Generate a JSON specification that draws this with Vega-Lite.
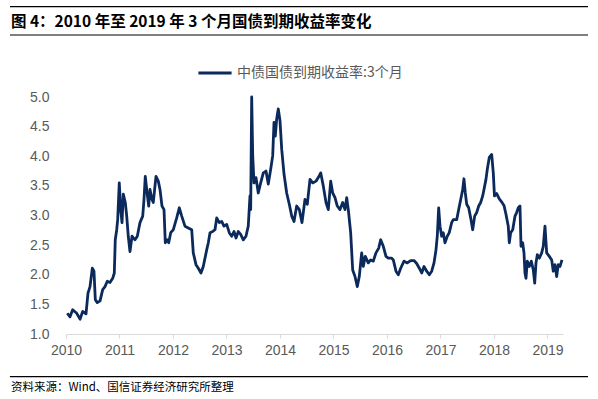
{
  "$schema": "https://vega.github.io/schema/vega-lite/v6.json",
  "width": 497,
  "height": 237,
  "autosize": {"type": "none"},
  "padding": {"left": 66, "top": 97, "right": 35, "bottom": 65},
  "background": "#ffffff",
  "config": {
    "view": {"stroke": null},
    "font": "Liberation Sans"
  },
  "layer": [
    {
      "data": {
        "values": [
          {"t": 2010.024, "v": 1.35}, {"t": 2010.075, "v": 1.29}, {"t": 2010.125, "v": 1.41}, {"t": 2010.2, "v": 1.35},
          {"t": 2010.262, "v": 1.25}, {"t": 2010.312, "v": 1.38}, {"t": 2010.374, "v": 1.34}, {"t": 2010.411, "v": 1.69},
          {"t": 2010.449, "v": 1.8}, {"t": 2010.492, "v": 2.11}, {"t": 2010.523, "v": 2.06}, {"t": 2010.548, "v": 1.58},
          {"t": 2010.585, "v": 1.53}, {"t": 2010.636, "v": 1.56}, {"t": 2010.686, "v": 1.75}, {"t": 2010.729, "v": 1.8},
          {"t": 2010.772, "v": 1.89}, {"t": 2010.822, "v": 1.87}, {"t": 2010.873, "v": 1.94}, {"t": 2010.903, "v": 2.03},
          {"t": 2010.921, "v": 2.59}, {"t": 2010.948, "v": 2.76}, {"t": 2010.966, "v": 2.93}, {"t": 2010.996, "v": 3.55},
          {"t": 2011.022, "v": 3.1}, {"t": 2011.047, "v": 2.88}, {"t": 2011.071, "v": 3.36}, {"t": 2011.108, "v": 3.22},
          {"t": 2011.135, "v": 2.99}, {"t": 2011.164, "v": 2.65}, {"t": 2011.196, "v": 2.39}, {"t": 2011.234, "v": 2.65},
          {"t": 2011.29, "v": 2.59}, {"t": 2011.333, "v": 2.65}, {"t": 2011.383, "v": 2.88}, {"t": 2011.434, "v": 2.99},
          {"t": 2011.458, "v": 3.27}, {"t": 2011.482, "v": 3.66}, {"t": 2011.508, "v": 3.44}, {"t": 2011.546, "v": 3.16},
          {"t": 2011.57, "v": 3.44}, {"t": 2011.607, "v": 3.27}, {"t": 2011.632, "v": 3.22}, {"t": 2011.682, "v": 3.66},
          {"t": 2011.725, "v": 3.58}, {"t": 2011.757, "v": 3.44}, {"t": 2011.794, "v": 3.16}, {"t": 2011.832, "v": 3.1},
          {"t": 2011.856, "v": 2.54}, {"t": 2011.893, "v": 2.59}, {"t": 2011.92, "v": 2.54}, {"t": 2011.957, "v": 2.71},
          {"t": 2012.006, "v": 2.76}, {"t": 2012.069, "v": 2.96}, {"t": 2012.118, "v": 3.13}, {"t": 2012.163, "v": 2.99},
          {"t": 2012.224, "v": 2.82}, {"t": 2012.286, "v": 2.79}, {"t": 2012.35, "v": 2.76}, {"t": 2012.379, "v": 2.37},
          {"t": 2012.43, "v": 2.17}, {"t": 2012.473, "v": 2.11}, {"t": 2012.523, "v": 2.03}, {"t": 2012.566, "v": 2.14},
          {"t": 2012.63, "v": 2.42}, {"t": 2012.66, "v": 2.54}, {"t": 2012.692, "v": 2.71}, {"t": 2012.742, "v": 2.73},
          {"t": 2012.785, "v": 2.76}, {"t": 2012.817, "v": 2.96}, {"t": 2012.865, "v": 2.88}, {"t": 2012.91, "v": 2.9},
          {"t": 2012.953, "v": 2.82}, {"t": 2013.004, "v": 2.85}, {"t": 2013.052, "v": 2.71}, {"t": 2013.097, "v": 2.65},
          {"t": 2013.14, "v": 2.73}, {"t": 2013.178, "v": 2.62}, {"t": 2013.221, "v": 2.73}, {"t": 2013.265, "v": 2.68},
          {"t": 2013.314, "v": 2.59}, {"t": 2013.364, "v": 2.65}, {"t": 2013.407, "v": 2.82}, {"t": 2013.439, "v": 3.33},
          {"t": 2013.452, "v": 3.1}, {"t": 2013.471, "v": 5.0}, {"t": 2013.49, "v": 4.01}, {"t": 2013.514, "v": 3.55},
          {"t": 2013.551, "v": 3.64}, {"t": 2013.594, "v": 3.38}, {"t": 2013.639, "v": 3.55}, {"t": 2013.688, "v": 3.72},
          {"t": 2013.738, "v": 3.75}, {"t": 2013.781, "v": 3.53}, {"t": 2013.826, "v": 3.78}, {"t": 2013.864, "v": 4.01},
          {"t": 2013.888, "v": 4.57}, {"t": 2013.912, "v": 4.34}, {"t": 2013.938, "v": 4.63}, {"t": 2013.968, "v": 4.8},
          {"t": 2014.0, "v": 4.6}, {"t": 2014.032, "v": 4.12}, {"t": 2014.075, "v": 3.7}, {"t": 2014.125, "v": 3.38},
          {"t": 2014.174, "v": 3.19}, {"t": 2014.219, "v": 2.99}, {"t": 2014.262, "v": 2.9}, {"t": 2014.312, "v": 3.16},
          {"t": 2014.361, "v": 3.1}, {"t": 2014.411, "v": 2.88}, {"t": 2014.467, "v": 3.27}, {"t": 2014.51, "v": 3.19},
          {"t": 2014.561, "v": 3.61}, {"t": 2014.611, "v": 3.55}, {"t": 2014.673, "v": 3.58}, {"t": 2014.716, "v": 3.64},
          {"t": 2014.761, "v": 3.72}, {"t": 2014.809, "v": 3.5}, {"t": 2014.86, "v": 3.22}, {"t": 2014.903, "v": 3.1},
          {"t": 2014.948, "v": 3.58}, {"t": 2014.985, "v": 3.38}, {"t": 2015.028, "v": 3.3}, {"t": 2015.071, "v": 3.16},
          {"t": 2015.121, "v": 3.1}, {"t": 2015.172, "v": 3.22}, {"t": 2015.215, "v": 3.1}, {"t": 2015.247, "v": 3.3},
          {"t": 2015.277, "v": 3.1}, {"t": 2015.321, "v": 2.71}, {"t": 2015.359, "v": 2.08}, {"t": 2015.402, "v": 1.97},
          {"t": 2015.445, "v": 1.8}, {"t": 2015.482, "v": 1.97}, {"t": 2015.527, "v": 2.37}, {"t": 2015.557, "v": 2.14},
          {"t": 2015.594, "v": 2.31}, {"t": 2015.65, "v": 2.2}, {"t": 2015.695, "v": 2.25}, {"t": 2015.744, "v": 2.23},
          {"t": 2015.794, "v": 2.37}, {"t": 2015.845, "v": 2.45}, {"t": 2015.882, "v": 2.59}, {"t": 2015.931, "v": 2.48},
          {"t": 2015.981, "v": 2.31}, {"t": 2016.024, "v": 2.28}, {"t": 2016.088, "v": 2.28}, {"t": 2016.118, "v": 2.25},
          {"t": 2016.168, "v": 2.06}, {"t": 2016.211, "v": 2.0}, {"t": 2016.256, "v": 2.11}, {"t": 2016.318, "v": 2.23},
          {"t": 2016.379, "v": 2.2}, {"t": 2016.443, "v": 2.24}, {"t": 2016.505, "v": 2.24}, {"t": 2016.555, "v": 2.19},
          {"t": 2016.604, "v": 2.11}, {"t": 2016.649, "v": 2.03}, {"t": 2016.692, "v": 2.14}, {"t": 2016.742, "v": 2.06},
          {"t": 2016.791, "v": 2.0}, {"t": 2016.836, "v": 2.06}, {"t": 2016.879, "v": 2.2}, {"t": 2016.916, "v": 2.42},
          {"t": 2016.94, "v": 2.65}, {"t": 2016.966, "v": 3.13}, {"t": 2016.991, "v": 2.82}, {"t": 2017.022, "v": 2.65},
          {"t": 2017.052, "v": 2.71}, {"t": 2017.084, "v": 2.54}, {"t": 2017.127, "v": 2.65}, {"t": 2017.164, "v": 2.71},
          {"t": 2017.209, "v": 2.88}, {"t": 2017.239, "v": 2.93}, {"t": 2017.303, "v": 2.93}, {"t": 2017.34, "v": 3.1},
          {"t": 2017.378, "v": 3.27}, {"t": 2017.415, "v": 3.44}, {"t": 2017.439, "v": 3.62}, {"t": 2017.464, "v": 3.38},
          {"t": 2017.49, "v": 3.19}, {"t": 2017.527, "v": 3.13}, {"t": 2017.564, "v": 2.96}, {"t": 2017.602, "v": 2.76},
          {"t": 2017.639, "v": 2.99}, {"t": 2017.677, "v": 3.05}, {"t": 2017.714, "v": 3.16}, {"t": 2017.751, "v": 3.22},
          {"t": 2017.789, "v": 3.33}, {"t": 2017.813, "v": 3.44}, {"t": 2017.85, "v": 3.61}, {"t": 2017.875, "v": 3.78},
          {"t": 2017.912, "v": 3.98}, {"t": 2017.957, "v": 4.03}, {"t": 2017.987, "v": 3.72}, {"t": 2018.009, "v": 3.33},
          {"t": 2018.05, "v": 3.37}, {"t": 2018.099, "v": 3.28}, {"t": 2018.15, "v": 3.22}, {"t": 2018.187, "v": 3.17},
          {"t": 2018.224, "v": 3.02}, {"t": 2018.267, "v": 2.82}, {"t": 2018.286, "v": 2.54}, {"t": 2018.312, "v": 2.71},
          {"t": 2018.35, "v": 2.76}, {"t": 2018.393, "v": 2.99}, {"t": 2018.424, "v": 3.05}, {"t": 2018.454, "v": 3.13},
          {"t": 2018.486, "v": 3.16}, {"t": 2018.505, "v": 2.48}, {"t": 2018.536, "v": 2.54}, {"t": 2018.561, "v": 2.37},
          {"t": 2018.579, "v": 2.03}, {"t": 2018.598, "v": 1.94}, {"t": 2018.623, "v": 2.23}, {"t": 2018.66, "v": 2.14},
          {"t": 2018.697, "v": 2.23}, {"t": 2018.735, "v": 2.08}, {"t": 2018.761, "v": 1.86}, {"t": 2018.785, "v": 2.2},
          {"t": 2018.81, "v": 2.34}, {"t": 2018.847, "v": 2.28}, {"t": 2018.892, "v": 2.37}, {"t": 2018.921, "v": 2.48},
          {"t": 2018.953, "v": 2.82}, {"t": 2018.985, "v": 2.37}, {"t": 2019.034, "v": 2.31}, {"t": 2019.079, "v": 2.25},
          {"t": 2019.108, "v": 2.06}, {"t": 2019.14, "v": 2.17}, {"t": 2019.172, "v": 1.97}, {"t": 2019.201, "v": 2.17},
          {"t": 2019.234, "v": 2.14}, {"t": 2019.271, "v": 2.25}
        ]
      },
      "mark": {"type": "line", "strokeWidth": 2.8, "strokeJoin": "round", "interpolate": "linear"},
      "encoding": {
        "x": {
          "field": "t", "type": "quantitative",
          "scale": {"domain": [2010, 2019.29], "nice": false, "zero": false},
          "axis": {
            "title": null, "values": [2010, 2011, 2012, 2013, 2014, 2015, 2016, 2017, 2018, 2019],
            "format": "d", "grid": false, "domainColor": "#D9D9D9", "domainWidth": 1,
            "tickColor": "#D9D9D9", "tickSize": 4, "labelPadding": 5, "labelFlush": false,
            "labelOverlap": false,
            "labelColor": "#595959", "labelFontSize": 14, "labelFont": "Liberation Sans"
          }
        },
        "y": {
          "field": "v", "type": "quantitative",
          "scale": {"domain": [1, 5], "nice": false, "zero": false},
          "axis": {
            "title": null, "values": [1, 1.5, 2, 2.5, 3, 3.5, 4, 4.5, 5], "format": ".1f",
            "grid": false, "domain": false, "ticks": false, "labelPadding": 17,
            "labelOverlap": false, "labelFlush": false,
            "labelColor": "#595959", "labelFontSize": 14, "labelFont": "Liberation Sans"
          }
        },
        "color": {
          "datum": "中债国债到期收益率:3个月",
          "type": "nominal",
          "scale": {"range": ["#0B2A5B"]},
          "legend": {
            "title": null, "orient": "none", "legendX": 131, "legendY": -42,
            "symbolType": "stroke", "symbolSize": 1100, "symbolStrokeWidth": 2.8,
            "labelFontSize": 14, "labelColor": "#595959", "labelFont": "Noto Sans CJK SC",
            "labelOffset": 4, "labelLimit": 400
          }
        }
      }
    },
    {
      "data": {"values": [{"y": 6.524}, {"y": 6.046}, {"y": 0.279}]},
      "mark": {"type": "rule", "color": "#000000", "strokeWidth": 1.2},
      "encoding": {
        "x": {"datum": 2008.953, "type": "quantitative",
          "axis": {
            "title": null, "values": [2010, 2011, 2012, 2013, 2014, 2015, 2016, 2017, 2018, 2019],
            "format": "d", "grid": false, "domainColor": "#D9D9D9", "domainWidth": 1,
            "tickColor": "#D9D9D9", "tickSize": 4, "labelPadding": 5, "labelFlush": false,
            "labelOverlap": false,
            "labelColor": "#595959", "labelFontSize": 14, "labelFont": "Liberation Sans"
          }},
        "x2": {"datum": 2019.757},
        "y": {"field": "y", "type": "quantitative",
          "axis": {
            "title": null, "values": [1, 1.5, 2, 2.5, 3, 3.5, 4, 4.5, 5], "format": ".1f",
            "grid": false, "domain": false, "ticks": false, "labelPadding": 17,
            "labelOverlap": false, "labelFlush": false,
            "labelColor": "#595959", "labelFontSize": 14, "labelFont": "Liberation Sans"
          }}
      }
    },
    {
      "data": {"values": [
        {"label": "图 4：2010 年至 2019 年 3 个月国债到期收益率变化", "x": 2008.97, "y": 6.271}
      ]},
      "mark": {"type": "text", "align": "left", "baseline": "middle", "font": "Noto Sans CJK SC", "fontSize": 15.5, "fontWeight": "bold", "color": "#000000"},
      "encoding": {
        "x": {"field": "x", "type": "quantitative",
          "axis": {
            "title": null, "values": [2010, 2011, 2012, 2013, 2014, 2015, 2016, 2017, 2018, 2019],
            "format": "d", "grid": false, "domainColor": "#D9D9D9", "domainWidth": 1,
            "tickColor": "#D9D9D9", "tickSize": 4, "labelPadding": 5, "labelFlush": false,
            "labelOverlap": false,
            "labelColor": "#595959", "labelFontSize": 14, "labelFont": "Liberation Sans"
          }},
        "y": {"field": "y", "type": "quantitative",
          "axis": {
            "title": null, "values": [1, 1.5, 2, 2.5, 3, 3.5, 4, 4.5, 5], "format": ".1f",
            "grid": false, "domain": false, "ticks": false, "labelPadding": 17,
            "labelOverlap": false, "labelFlush": false,
            "labelColor": "#595959", "labelFontSize": 14, "labelFont": "Liberation Sans"
          }},
        "text": {"field": "label"}
      }
    },
    {
      "data": {"values": [
        {"label": "资料来源：Wind、国信证券经济研究所整理", "x": 2008.97, "y": 0.0835}
      ]},
      "mark": {"type": "text", "align": "left", "baseline": "middle", "font": "Noto Sans CJK SC", "fontSize": 11.5, "color": "#000000"},
      "encoding": {
        "x": {"field": "x", "type": "quantitative",
          "axis": {
            "title": null, "values": [2010, 2011, 2012, 2013, 2014, 2015, 2016, 2017, 2018, 2019],
            "format": "d", "grid": false, "domainColor": "#D9D9D9", "domainWidth": 1,
            "tickColor": "#D9D9D9", "tickSize": 4, "labelPadding": 5, "labelFlush": false,
            "labelOverlap": false,
            "labelColor": "#595959", "labelFontSize": 14, "labelFont": "Liberation Sans"
          }},
        "y": {"field": "y", "type": "quantitative",
          "axis": {
            "title": null, "values": [1, 1.5, 2, 2.5, 3, 3.5, 4, 4.5, 5], "format": ".1f",
            "grid": false, "domain": false, "ticks": false, "labelPadding": 17,
            "labelOverlap": false, "labelFlush": false,
            "labelColor": "#595959", "labelFontSize": 14, "labelFont": "Liberation Sans"
          }},
        "text": {"field": "label"}
      }
    }
  ]
}
